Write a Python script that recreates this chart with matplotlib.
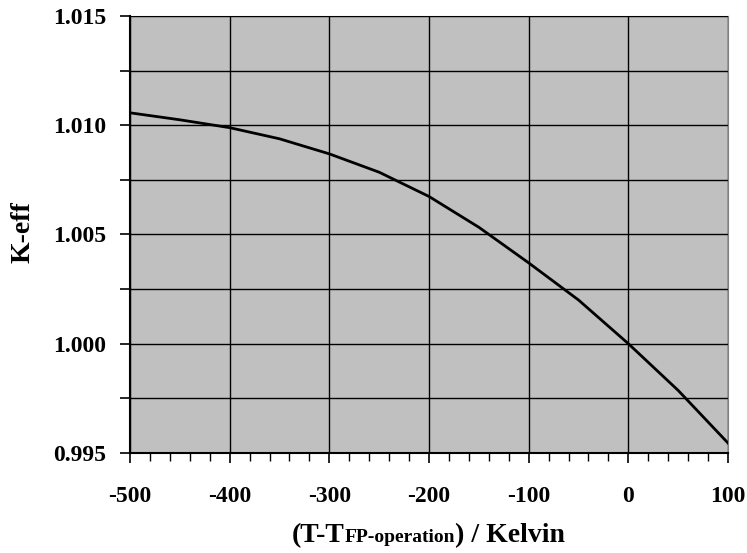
import matplotlib.pyplot as plt
import numpy as np
from matplotlib.offsetbox import TextArea, HPacker, AnchoredOffsetbox

# data
temp = np.array([-500, -450, -400, -350, -300, -250, -200, -150, -100, -50, 0, 50, 100])
keff = np.array([1.01057, 1.01025, 1.00989, 1.00938, 1.00869, 1.00785, 1.00674,
                 1.00533, 1.00370, 1.00200, 1.00000, 0.99786, 0.99545])

x_ticks = np.arange(-500, 101, 100)
y_ticks = np.arange(0.995, 1.01501, 0.0025)

plt.rcParams['font.family'] = ['Liberation Serif', 'DejaVu Serif']
plt.rcParams['font.weight'] = 'bold'

fig = plt.figure(figsize=(7.47, 5.53), dpi=100)
ax = fig.add_axes([0.174, 0.181, 0.8006, 0.790])
ax.set_facecolor('#C0C0C0')

ax.plot(temp, keff, color='black', lw=2)

ax.set_xlim(-500, 100)
ax.set_ylim(0.995, 1.015)
ax.set_xticks(x_ticks)
ax.set_xticklabels([str(v) for v in x_ticks])
ax.set_xticks(np.arange(-500, 101, 20), minor=True)
ax.set_yticks(y_ticks)
ax.set_yticklabels(['%.3f' % v if i % 2 == 0 else '' for i, v in enumerate(y_ticks)])

ax.grid(True, color='black', lw=1)
ax.set_axisbelow(False)
ax.tick_params(axis='both', which='major', direction='out', length=7, width=1.2,
               labelsize=17, color='black')
ax.tick_params(axis='x', which='major', pad=17)
ax.tick_params(axis='y', which='major', pad=10)
ax.tick_params(axis='x', which='minor', direction='out', length=6, width=1)
for lbl in ax.get_xticklabels() + ax.get_yticklabels():
    lbl.set_fontweight('bold')

ax.spines['left'].set_color('black')
ax.spines['bottom'].set_color('black')
ax.spines['left'].set_linewidth(1.5)
ax.spines['bottom'].set_linewidth(1.5)
ax.spines['top'].set_color('#808080')
ax.spines['right'].set_color('#808080')

fig.text(23 / 747, 1 - 232 / 553, 'K-eff', rotation=90, ha='center', va='center',
         fontsize=20, fontweight='bold')

# x label with smaller "FP-operation"
parts = [TextArea('(T-T', textprops=dict(size=20, weight='bold')),
         TextArea('FP-operation', textprops=dict(size=14, weight='bold')),
         TextArea(') / Kelvin', textprops=dict(size=20, weight='bold'))]
box = HPacker(children=parts, align='baseline', pad=0, sep=0)
anch = AnchoredOffsetbox(loc='center', child=box, frameon=False,
                         bbox_to_anchor=(0.573, 0.032), bbox_transform=fig.transFigure,
                         borderpad=0, pad=0)
fig.add_artist(anch)

fig.savefig('out.png', dpi=100)
